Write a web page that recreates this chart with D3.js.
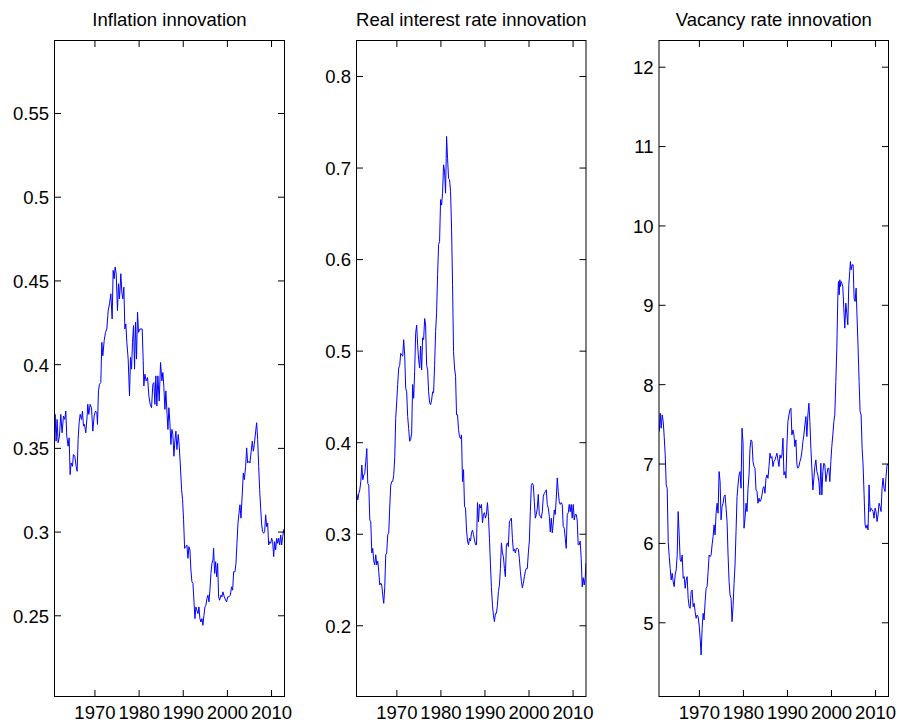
<!DOCTYPE html>
<html><head><meta charset="utf-8">
<script src="https://cdn.jsdelivr.net/npm/d3@7"></script>
<style>body{margin:0;background:#fff}svg{display:block}</style>
</head><body><svg id="c" width="900" height="723"></svg>
<script>
const titles = ["Inflation innovation", "Real interest rate innovation", "Vacancy rate innovation"];
const xTickYears = [1970, 1980, 1990, 2000, 2010];
const inflationTicks = [0.25, 0.3, 0.35, 0.4, 0.45, 0.5, 0.55];
const realRateTicks = [0.2, 0.3, 0.4, 0.5, 0.6, 0.7, 0.8];
const vacancyTicks = [5, 6, 7, 8, 9, 10, 11, 12];
const xRange = [1960.95, 2013.05];
const inflationRange = [0.2015, 0.5933];
const realRateRange = [0.1222, 0.8388];
const vacancyRange = [4.065, 12.33];

const inflation = [[1961.00,0.359],[1961.09,0.370],[1961.31,0.354],[1961.54,0.367],[1961.77,0.353],[1962.07,0.357],[1962.37,0.370],[1962.67,0.359],[1962.98,0.369],[1963.28,0.367],[1963.51,0.372],[1963.73,0.357],[1964.03,0.351],[1964.26,0.356],[1964.49,0.334],[1964.71,0.341],[1965.02,0.339],[1965.24,0.346],[1965.55,0.345],[1965.85,0.339],[1966.08,0.336],[1966.30,0.355],[1966.53,0.365],[1966.76,0.370],[1967.06,0.367],[1967.29,0.372],[1967.51,0.363],[1967.74,0.364],[1968.04,0.359],[1968.34,0.369],[1968.49,0.376],[1968.72,0.370],[1969.02,0.376],[1969.33,0.374],[1969.63,0.360],[1969.93,0.369],[1970.23,0.372],[1970.54,0.371],[1970.69,0.364],[1970.91,0.384],[1971.14,0.388],[1971.44,0.389],[1971.67,0.413],[1971.90,0.405],[1972.20,0.414],[1972.50,0.419],[1972.80,0.421],[1973.11,0.432],[1973.41,0.436],[1973.71,0.442],[1974.01,0.427],[1974.24,0.456],[1974.47,0.451],[1974.69,0.458],[1974.92,0.454],[1975.22,0.432],[1975.45,0.448],[1975.68,0.439],[1975.98,0.454],[1976.20,0.443],[1976.43,0.439],[1976.66,0.446],[1976.89,0.421],[1977.11,0.424],[1977.34,0.413],[1977.64,0.403],[1977.94,0.381],[1978.17,0.404],[1978.40,0.397],[1978.62,0.413],[1978.85,0.423],[1979.08,0.397],[1979.30,0.425],[1979.53,0.403],[1979.76,0.431],[1979.98,0.419],[1980.29,0.421],[1980.82,0.421],[1981.04,0.402],[1981.19,0.387],[1981.42,0.394],[1981.72,0.390],[1982.03,0.392],[1982.33,0.381],[1982.63,0.376],[1982.93,0.374],[1983.23,0.388],[1983.46,0.389],[1983.69,0.376],[1983.91,0.393],[1984.14,0.375],[1984.37,0.393],[1984.67,0.378],[1984.97,0.401],[1985.28,0.390],[1985.50,0.395],[1985.73,0.386],[1985.96,0.373],[1986.18,0.384],[1986.41,0.372],[1986.64,0.361],[1986.86,0.374],[1987.09,0.365],[1987.32,0.352],[1987.54,0.361],[1987.77,0.358],[1988.00,0.345],[1988.22,0.354],[1988.45,0.360],[1988.68,0.349],[1988.98,0.358],[1989.21,0.351],[1989.43,0.341],[1989.74,0.325],[1989.96,0.319],[1990.19,0.307],[1990.42,0.290],[1990.72,0.291],[1990.95,0.292],[1991.17,0.284],[1991.40,0.291],[1991.63,0.289],[1991.85,0.277],[1992.08,0.270],[1992.31,0.269],[1992.53,0.259],[1992.76,0.248],[1992.99,0.255],[1993.21,0.253],[1993.44,0.251],[1993.67,0.255],[1993.89,0.248],[1994.12,0.246],[1994.35,0.248],[1994.57,0.244],[1994.80,0.250],[1995.03,0.255],[1995.25,0.256],[1995.48,0.260],[1995.71,0.262],[1995.93,0.258],[1996.16,0.265],[1996.39,0.275],[1996.61,0.281],[1996.84,0.283],[1996.99,0.290],[1997.22,0.275],[1997.45,0.282],[1997.67,0.273],[1997.90,0.281],[1998.13,0.261],[1998.35,0.259],[1998.66,0.262],[1998.88,0.261],[1999.11,0.264],[1999.41,0.261],[1999.71,0.259],[1999.94,0.258],[2000.17,0.261],[2000.47,0.261],[2000.77,0.262],[2001.07,0.267],[2001.30,0.265],[2001.53,0.276],[2001.83,0.276],[2002.06,0.281],[2002.28,0.293],[2002.51,0.305],[2002.74,0.311],[2002.96,0.316],[2003.19,0.308],[2003.49,0.323],[2003.72,0.335],[2003.95,0.331],[2004.25,0.339],[2004.48,0.350],[2004.70,0.341],[2005.00,0.342],[2005.23,0.341],[2005.46,0.347],[2005.76,0.354],[2005.99,0.348],[2006.21,0.352],[2006.52,0.360],[2006.74,0.365],[2006.97,0.355],[2007.20,0.339],[2007.42,0.325],[2007.65,0.314],[2007.88,0.304],[2008.10,0.300],[2008.33,0.299],[2008.56,0.300],[2008.78,0.310],[2009.01,0.303],[2009.24,0.305],[2009.46,0.292],[2009.69,0.294],[2009.92,0.293],[2010.14,0.296],[2010.37,0.294],[2010.60,0.285],[2010.82,0.294],[2011.05,0.289],[2011.28,0.296],[2011.51,0.293],[2011.73,0.296],[2011.96,0.292],[2012.19,0.298],[2012.41,0.292],[2012.64,0.297],[2012.87,0.301],[2013.05,0.302]];

const realRate = [[1960.95,0.330],[1961.02,0.343],[1961.25,0.337],[1961.47,0.344],[1961.70,0.348],[1961.93,0.357],[1962.15,0.375],[1962.38,0.359],[1962.61,0.364],[1962.83,0.366],[1963.06,0.379],[1963.29,0.393],[1963.51,0.355],[1963.74,0.353],[1963.97,0.315],[1964.19,0.313],[1964.42,0.279],[1964.64,0.284],[1964.87,0.270],[1965.10,0.266],[1965.32,0.277],[1965.55,0.266],[1965.78,0.270],[1966.00,0.259],[1966.23,0.244],[1966.46,0.246],[1966.68,0.244],[1966.91,0.233],[1967.13,0.224],[1967.36,0.241],[1967.59,0.277],[1967.81,0.279],[1968.04,0.299],[1968.27,0.301],[1968.49,0.328],[1968.72,0.353],[1968.95,0.357],[1969.17,0.357],[1969.40,0.364],[1969.63,0.383],[1969.85,0.426],[1970.08,0.444],[1970.30,0.463],[1970.53,0.481],[1970.76,0.484],[1970.98,0.497],[1971.21,0.495],[1971.44,0.494],[1971.66,0.512],[1971.89,0.495],[1972.12,0.459],[1972.34,0.455],[1972.57,0.428],[1972.79,0.415],[1973.02,0.401],[1973.25,0.403],[1973.47,0.410],[1973.70,0.463],[1973.93,0.448],[1974.15,0.477],[1974.38,0.519],[1974.61,0.528],[1974.83,0.506],[1975.06,0.490],[1975.29,0.481],[1975.51,0.505],[1975.74,0.479],[1975.96,0.514],[1976.19,0.512],[1976.42,0.535],[1976.64,0.528],[1976.87,0.484],[1977.10,0.479],[1977.32,0.455],[1977.55,0.443],[1977.78,0.441],[1978.00,0.446],[1978.23,0.455],[1978.45,0.454],[1978.68,0.484],[1978.91,0.521],[1979.13,0.541],[1979.36,0.583],[1979.59,0.616],[1979.81,0.619],[1980.04,0.665],[1980.27,0.659],[1980.49,0.672],[1980.72,0.703],[1980.94,0.696],[1981.17,0.672],[1981.40,0.734],[1981.62,0.710],[1981.85,0.688],[1982.08,0.687],[1982.30,0.674],[1982.53,0.634],[1982.76,0.572],[1982.98,0.499],[1983.21,0.481],[1983.44,0.472],[1983.66,0.430],[1983.89,0.430],[1984.11,0.414],[1984.34,0.406],[1984.57,0.404],[1984.79,0.408],[1985.02,0.357],[1985.25,0.370],[1985.47,0.330],[1985.70,0.328],[1985.93,0.304],[1986.15,0.292],[1986.38,0.288],[1986.60,0.295],[1986.83,0.292],[1987.06,0.301],[1987.28,0.304],[1987.51,0.299],[1987.74,0.293],[1987.96,0.288],[1988.19,0.288],[1988.42,0.334],[1988.64,0.313],[1988.87,0.332],[1989.09,0.328],[1989.32,0.332],[1989.55,0.312],[1989.77,0.321],[1990.00,0.323],[1990.23,0.317],[1990.45,0.321],[1990.68,0.334],[1990.91,0.319],[1991.13,0.295],[1991.36,0.266],[1991.58,0.241],[1991.81,0.222],[1992.04,0.211],[1992.26,0.204],[1992.49,0.213],[1992.72,0.213],[1992.94,0.222],[1993.17,0.237],[1993.40,0.244],[1993.62,0.262],[1993.85,0.290],[1994.08,0.279],[1994.30,0.275],[1994.53,0.262],[1994.75,0.253],[1994.98,0.288],[1995.21,0.290],[1995.43,0.286],[1995.66,0.313],[1995.89,0.315],[1996.11,0.317],[1996.34,0.295],[1996.57,0.281],[1996.79,0.283],[1997.02,0.279],[1997.24,0.284],[1997.47,0.284],[1997.70,0.283],[1997.92,0.273],[1998.15,0.259],[1998.38,0.248],[1998.60,0.241],[1998.83,0.246],[1999.06,0.253],[1999.28,0.259],[1999.51,0.262],[1999.73,0.262],[1999.96,0.279],[2000.19,0.292],[2000.41,0.324],[2000.64,0.353],[2000.87,0.355],[2001.09,0.353],[2001.32,0.335],[2001.55,0.317],[2001.77,0.321],[2002.00,0.328],[2002.22,0.343],[2002.45,0.321],[2002.68,0.319],[2002.90,0.317],[2003.13,0.324],[2003.36,0.341],[2003.58,0.344],[2003.81,0.346],[2004.04,0.348],[2004.26,0.332],[2004.49,0.328],[2004.72,0.319],[2004.94,0.302],[2005.17,0.317],[2005.39,0.301],[2005.62,0.312],[2005.85,0.326],[2006.07,0.321],[2006.30,0.339],[2006.53,0.361],[2006.75,0.346],[2006.98,0.335],[2007.21,0.332],[2007.43,0.334],[2007.66,0.332],[2007.88,0.308],[2008.11,0.306],[2008.34,0.295],[2008.56,0.284],[2008.79,0.321],[2009.02,0.323],[2009.24,0.332],[2009.47,0.324],[2009.70,0.332],[2009.92,0.317],[2010.15,0.332],[2010.38,0.315],[2010.60,0.321],[2010.83,0.321],[2011.05,0.315],[2011.28,0.288],[2011.51,0.288],[2011.73,0.292],[2011.96,0.273],[2012.19,0.242],[2012.41,0.252],[2012.64,0.244],[2012.87,0.252],[2013.05,0.268]];

const vacancy = [[1961.00,7.403],[1961.23,7.634],[1961.45,7.445],[1961.68,7.613],[1961.91,7.529],[1962.13,7.340],[1962.36,7.109],[1962.59,6.731],[1962.81,6.689],[1963.04,6.017],[1963.27,5.827],[1963.49,5.680],[1963.72,5.533],[1963.94,5.617],[1964.17,5.512],[1964.40,5.449],[1964.62,5.596],[1964.85,5.659],[1965.08,5.848],[1965.30,6.395],[1965.53,6.101],[1965.76,5.785],[1965.98,5.764],[1966.21,5.848],[1966.44,5.554],[1966.66,5.575],[1966.89,5.428],[1967.12,5.533],[1967.34,5.575],[1967.57,5.302],[1967.80,5.197],[1968.02,5.176],[1968.25,5.386],[1968.47,5.407],[1968.70,5.197],[1968.93,5.239],[1969.15,5.134],[1969.38,5.050],[1969.61,5.092],[1969.83,5.071],[1970.06,4.966],[1970.29,4.798],[1970.51,4.588],[1970.74,4.924],[1970.97,5.113],[1971.19,5.029],[1971.42,5.260],[1971.65,5.428],[1971.87,5.449],[1972.10,5.638],[1972.33,5.848],[1972.55,5.827],[1972.78,5.848],[1973.00,5.974],[1973.23,6.080],[1973.46,6.227],[1973.68,6.101],[1973.91,6.374],[1974.14,6.500],[1974.36,6.374],[1974.59,6.899],[1974.82,6.773],[1975.04,6.290],[1975.27,6.458],[1975.50,6.500],[1975.72,6.584],[1975.95,6.605],[1976.18,6.437],[1976.40,6.269],[1976.63,5.848],[1976.86,5.512],[1977.08,5.344],[1977.31,5.302],[1977.53,5.008],[1977.76,5.197],[1977.99,5.491],[1978.21,5.722],[1978.44,6.143],[1978.67,6.584],[1978.89,6.731],[1979.12,6.857],[1979.35,6.899],[1979.57,6.689],[1979.80,7.445],[1980.03,7.256],[1980.25,6.185],[1980.48,6.311],[1980.71,6.500],[1980.93,6.395],[1981.16,6.689],[1981.39,6.857],[1981.61,7.193],[1981.84,7.298],[1982.06,7.277],[1982.29,7.025],[1982.52,6.962],[1982.74,6.941],[1982.97,6.668],[1983.20,6.647],[1983.42,6.500],[1983.65,6.563],[1983.88,6.521],[1984.10,6.542],[1984.33,6.605],[1984.56,6.689],[1984.78,6.710],[1985.01,6.626],[1985.24,6.815],[1985.46,6.857],[1985.69,6.815],[1985.92,6.962],[1986.14,7.130],[1986.37,7.067],[1986.59,7.088],[1986.82,6.962],[1987.05,7.025],[1987.27,7.046],[1987.50,7.088],[1987.73,7.130],[1987.95,7.046],[1988.18,6.962],[1988.41,7.109],[1988.63,7.067],[1988.86,7.109],[1989.09,7.319],[1989.31,6.857],[1989.54,6.899],[1989.77,6.815],[1989.99,7.235],[1990.22,7.529],[1990.45,7.613],[1990.67,7.676],[1990.90,7.697],[1991.12,7.361],[1991.35,7.424],[1991.58,7.361],[1991.80,7.214],[1992.03,7.298],[1992.26,6.983],[1992.48,6.941],[1992.71,6.962],[1992.94,7.025],[1993.16,7.067],[1993.39,7.151],[1993.62,7.277],[1993.84,7.361],[1994.07,7.487],[1994.30,7.592],[1994.52,7.340],[1994.75,7.613],[1994.98,7.760],[1995.20,7.529],[1995.43,7.193],[1995.65,6.941],[1995.88,6.668],[1996.11,6.815],[1996.33,6.962],[1996.56,7.046],[1996.79,6.899],[1997.01,6.857],[1997.24,6.773],[1997.47,6.605],[1997.69,7.004],[1997.92,6.605],[1998.15,6.899],[1998.37,7.004],[1998.60,6.983],[1998.83,6.773],[1999.05,6.857],[1999.28,6.941],[1999.51,6.941],[1999.73,6.773],[1999.96,7.025],[2000.18,7.214],[2000.41,7.361],[2000.64,7.529],[2000.86,7.613],[2001.09,8.033],[2001.32,8.454],[2001.54,9.084],[2001.69,9.294],[2001.85,9.126],[2002.00,9.315],[2002.15,9.231],[2002.30,9.294],[2002.45,9.273],[2002.68,9.231],[2002.90,8.958],[2003.13,8.706],[2003.36,9.021],[2003.58,8.895],[2003.81,8.748],[2004.04,9.252],[2004.26,9.420],[2004.41,9.546],[2004.56,9.441],[2004.79,9.504],[2005.02,9.504],[2005.24,9.084],[2005.47,9.042],[2005.70,9.210],[2005.92,8.832],[2006.15,8.454],[2006.38,8.033],[2006.60,7.655],[2006.83,7.613],[2007.06,7.193],[2007.28,6.983],[2007.51,6.605],[2007.73,6.227],[2007.96,6.185],[2008.19,6.227],[2008.41,6.164],[2008.64,6.731],[2008.87,6.395],[2009.09,6.437],[2009.32,6.416],[2009.55,6.395],[2009.77,6.311],[2010.00,6.437],[2010.23,6.395],[2010.45,6.269],[2010.68,6.353],[2010.91,6.500],[2011.13,6.458],[2011.36,6.395],[2011.59,6.689],[2011.81,6.815],[2012.04,6.689],[2012.27,6.647],[2012.49,6.836],[2012.72,6.983],[2013.05,7.000]];

const panels = [
  {title: titles[0], data: inflation, ticks: inflationTicks, range: inflationRange, left: 54.5, width: 230},
  {title: titles[1], data: realRate, ticks: realRateTicks, range: realRateRange, left: 356.5, width: 229.5},
  {title: titles[2], data: vacancy, ticks: vacancyTicks, range: vacancyRange, left: 659, width: 229.5}
];
const plotTop = 40.5, plotHeight = 656, tickLen = 6.5;
const font = "'Liberation Sans', Arial, Helvetica, sans-serif";
const fs = 18.5;

const svg = d3.select("#c");
panels.forEach((p, i) => {
  const x = d3.scaleLinear().domain(xRange).range([0, p.width]);
  const y = d3.scaleLinear().domain(p.range).range([plotHeight, 0]);
  const g = svg.append("g").attr("transform", `translate(${p.left},${plotTop})`);

  g.append("clipPath").attr("id", "clip" + i)
    .append("rect").attr("width", p.width).attr("height", plotHeight);

  g.append("path").datum(p.data)
    .attr("clip-path", `url(#clip${i})`)
    .attr("fill", "none").attr("stroke", "#0000ff").attr("stroke-width", 1)
    .attr("stroke-linejoin", "round")
    .attr("d", d3.line().x(d => x(d[0])).y(d => y(d[1])));

  const style = sel => {
    sel.select(".domain").remove();
    sel.selectAll("line").attr("stroke", "#000").attr("stroke-width", 1);
    sel.selectAll("text").attr("fill", "#000").style("font-family", font).style("font-size", fs + "px");
  };

  g.append("g").call(d3.axisLeft(y).tickValues(p.ticks).tickFormat(d => String(d))
      .tickSizeInner(-tickLen).tickSizeOuter(0).tickPadding(5.5)).call(style)
    .selectAll("text").attr("dy", "0.37em");
  g.append("g").attr("transform", `translate(${p.width},0)`)
    .call(d3.axisRight(y).tickValues(p.ticks).tickFormat("")
      .tickSizeInner(-tickLen).tickSizeOuter(0)).call(style);
  g.append("g").attr("transform", `translate(0,${plotHeight})`)
    .call(d3.axisBottom(x).tickValues(xTickYears).tickFormat(d => String(d))
      .tickSizeInner(-tickLen).tickSizeOuter(0).tickPadding(9.5)).call(style);
  g.append("g")
    .call(d3.axisTop(x).tickValues(xTickYears).tickFormat("")
      .tickSizeInner(-tickLen).tickSizeOuter(0)).call(style);

  g.append("rect").attr("width", p.width).attr("height", plotHeight)
    .attr("fill", "none").attr("stroke", "#000").attr("stroke-width", 1);

  svg.append("text").attr("x", p.left + p.width / 2).attr("y", 26)
    .attr("text-anchor", "middle").style("font-family", font).style("font-size", fs + "px")
    .attr("fill", "#000").text(p.title);
});
</script></body></html>
